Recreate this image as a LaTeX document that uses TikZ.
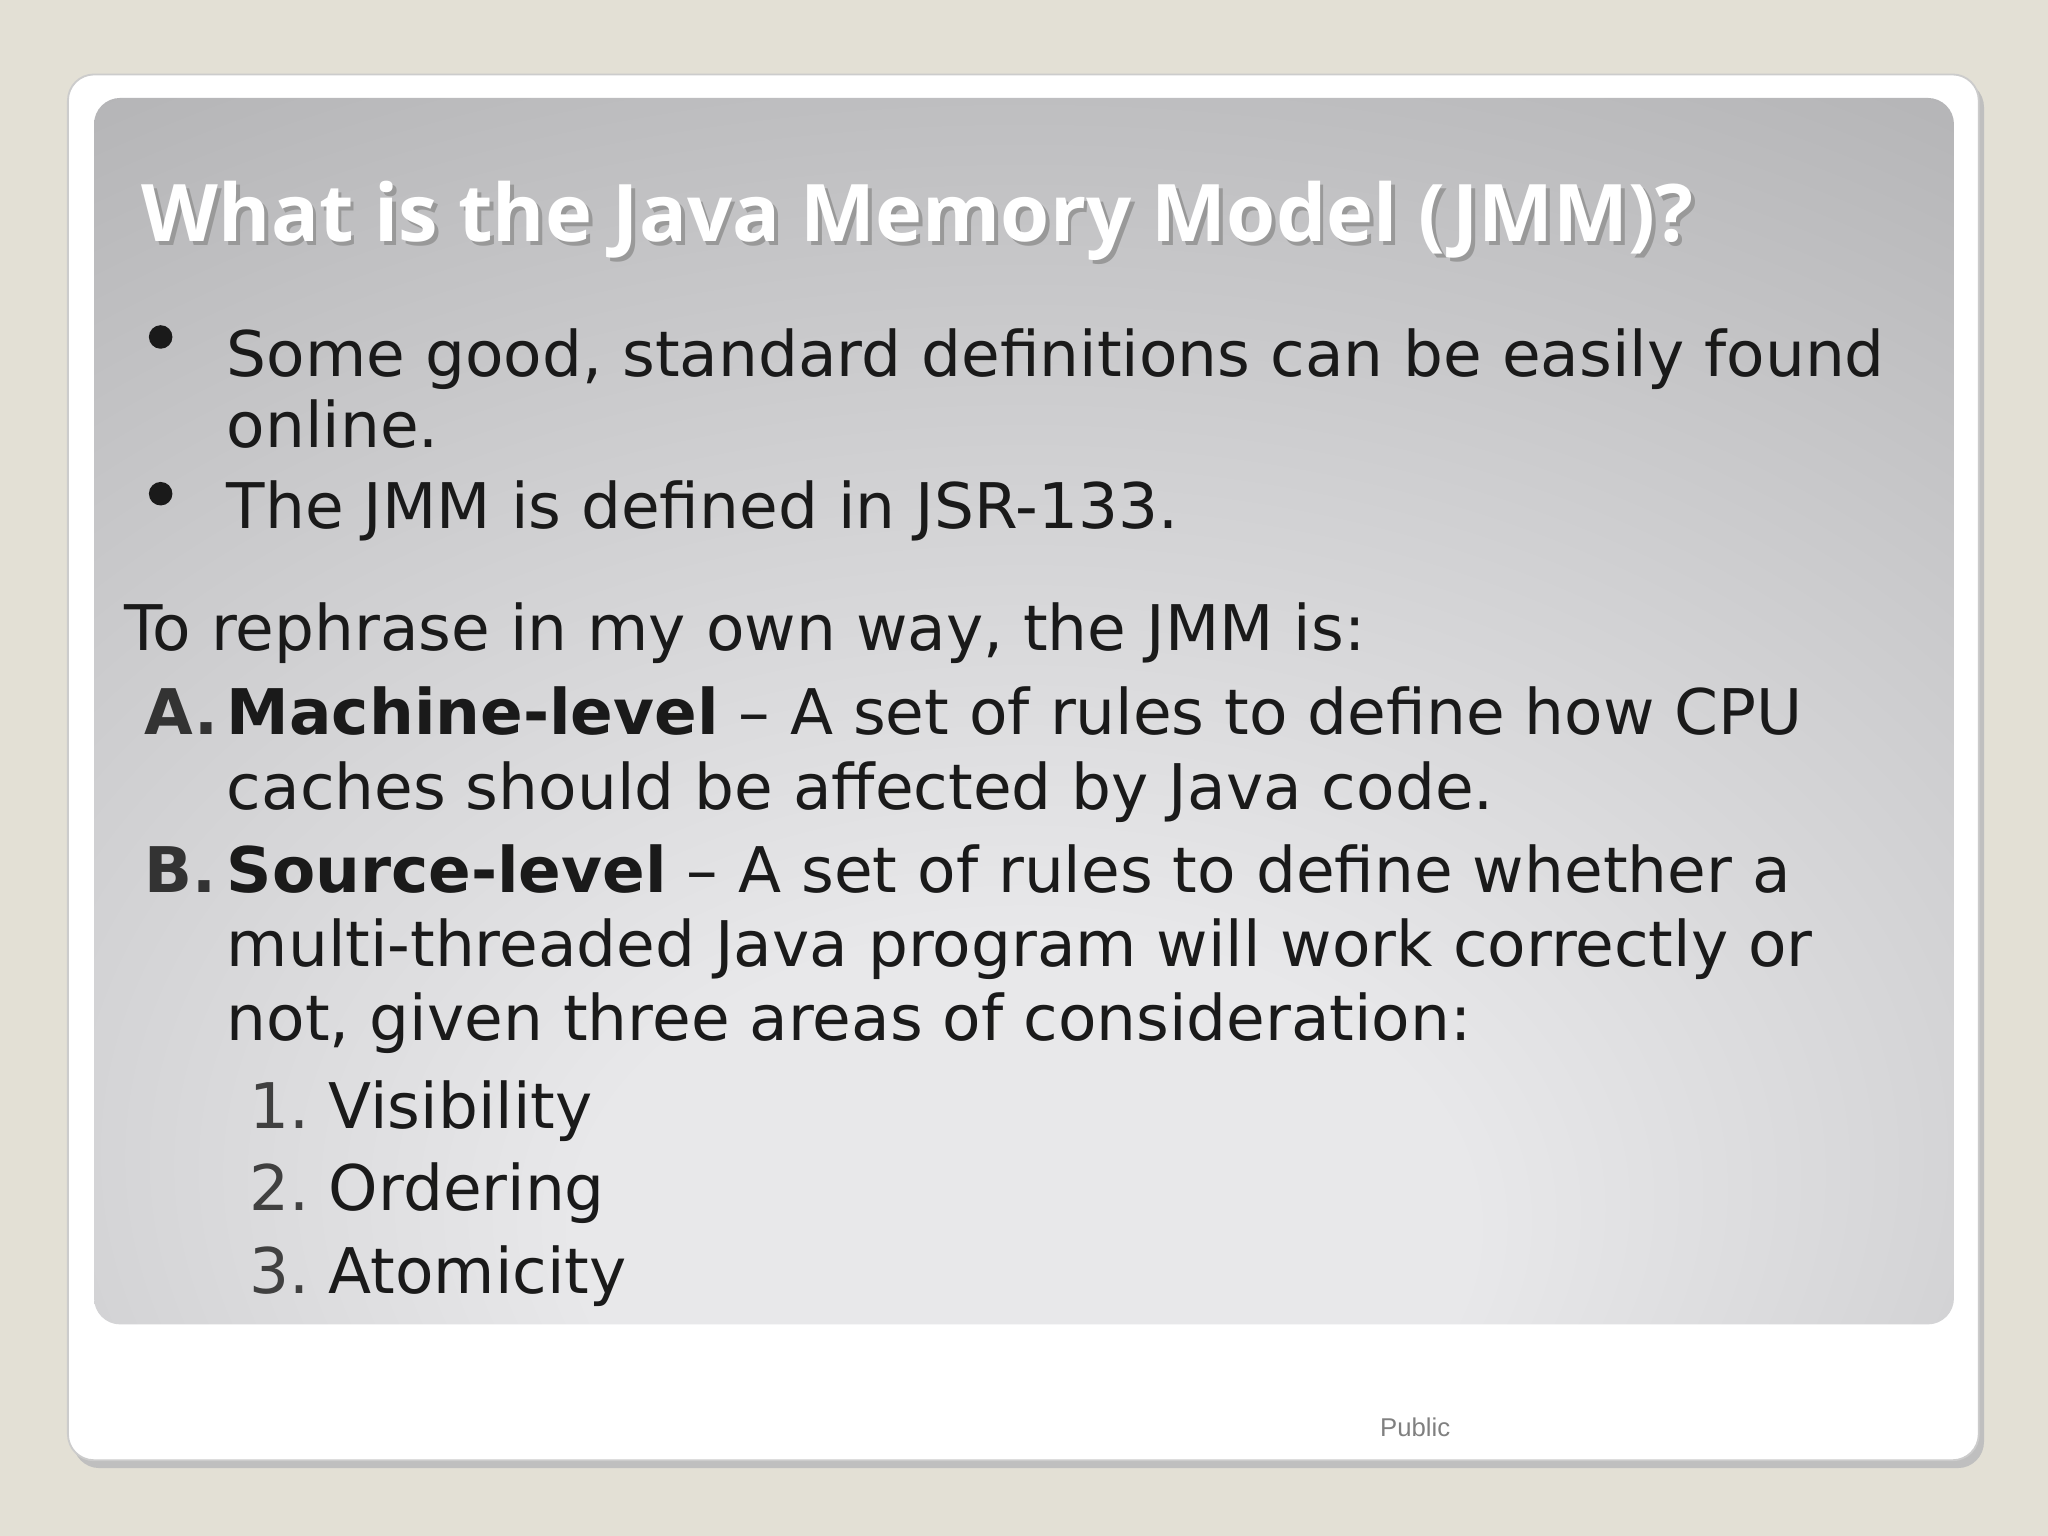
\documentclass[tikz,border=0pt]{standalone}
\usepackage{fontspec}
\setmainfont{DejaVu Sans}
\newfontfamily\titlefont{Open Sans}
\newfontfamily\pubfont{Liberation Sans}
\definecolor{bgc}{HTML}{E3E0D5}
\definecolor{light}{HTML}{E8E8EA}
\definecolor{dark}{HTML}{9C9C9E}
\definecolor{txt}{HTML}{1A1A1A}
\pgfdeclareradialshading{panel}{\pgfpoint{0bp}{-24bp}}{color(0bp)=(light); color(12bp)=(light); color(62bp)=(dark); color(100bp)=(dark)}
\tikzset{
  body/.style={anchor=base west, inner sep=0pt, text=txt, font=\fontsize{13.7pt}{16pt}\selectfont},
  num/.style={body, text=black!75},
  dot/.style={circle, fill=txt, inner sep=0pt, minimum size=0.18cm},
  ttl/.style={anchor=base west, inner sep=0pt, font=\titlefont\bfseries\fontsize{17.3pt}{20pt}\selectfont}
}
\begin{document}
\begin{tikzpicture}[x=0.01cm,y=-0.01cm]
\useasboundingbox (0,0) rectangle (1568,1176);
\fill[bgc] (0,0) rectangle (1568,1176);
\fill[black!25] (56,62) [rounded corners=0.2cm] rectangle (1519,1124);
\fill[white, draw=black!20] (52,57) [rounded corners=0.2cm] rectangle (1515,1118);
\path[shading=panel, rounded corners=0.2cm] (72,75) rectangle (1496,1014);
\node[ttl, text=black!40] (tsh) at (111,188) {What is the Java Memory Model (JMM)?};
\node[ttl, text=white] (title) at (108,185) {What is the Java Memory Model (JMM)?};
\node[dot] (b1) at (123,258) {};
\node[body] (l1) at (173,288) {Some good, standard definitions can be easily found};
\node[body] (l2) at (173,343) {online.};
\node[dot] (b2) at (123,378) {};
\node[body] (l3) at (173,405) {The JMM is defined in JSR-133.};
\node[body] (l4) at (95,498) {To rephrase in my own way, the JMM is:};
\node[body, font=\bfseries\fontsize{13.7pt}{16pt}\selectfont, text=black!80] (A) at (110,562) {A.};
\node[body] (l5) at (173,562) {\textbf{Machine-level} – A set of rules to define how CPU};
\node[body] (l6) at (173,620) {caches should be affected by Java code.};
\node[body, font=\bfseries\fontsize{13.7pt}{16pt}\selectfont, text=black!80] (B) at (110,683) {B.};
\node[body] (l7) at (173,683) {\textbf{Source-level} – A set of rules to define whether a};
\node[body] (l8) at (173,740) {multi-threaded Java program will work correctly or};
\node[body] (l9) at (173,797) {not, given three areas of consideration:};
\node[num] (n1) at (190,864) {1.};
\node[body] (v) at (251,864) {Visibility};
\node[num] (n2) at (190,927) {2.};
\node[body] (o) at (251,927) {Ordering};
\node[num] (n3) at (190,990) {3.};
\node[body] (a) at (251,990) {Atomicity};
\node[anchor=base west, inner sep=0pt, text=black!50, font=\pubfont\fontsize{5.6pt}{7pt}\selectfont] (pub) at (1056,1100) {Public};
\end{tikzpicture}
\end{document}
